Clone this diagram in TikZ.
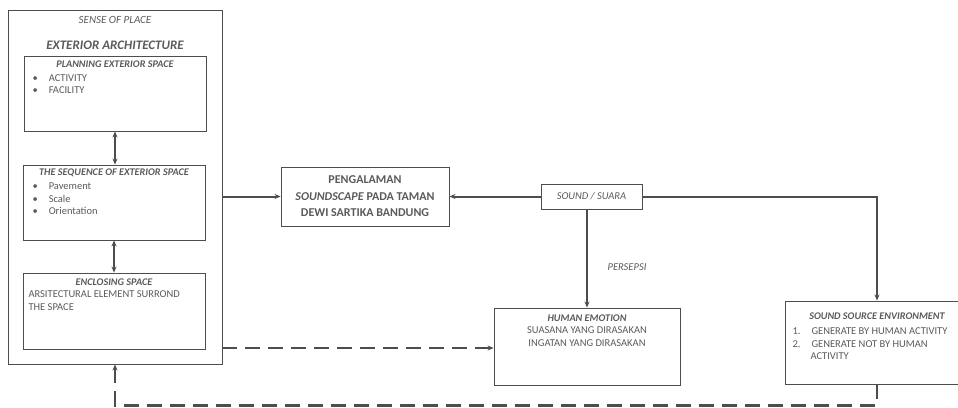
\documentclass[tikz,border=0pt]{standalone}
\usepackage{fontspec}
\setmainfont{Carlito}
\usetikzlibrary{arrows.meta}
\definecolor{linegray}{HTML}{4D4D4D}
\definecolor{textgray}{HTML}{5A5A5A}
\begin{document}
\begin{tikzpicture}[>={Stealth[length=6pt,width=5pt]},x=1pt,y=-1pt,
	box/.style={draw=linegray,line width=0.9pt,rectangle,inner sep=0pt},
	small/.style={text=textgray,font=\fontsize{10.5}{12.6}\selectfont},
	title/.style={small,font=\fontsize{10.2}{12.6}\selectfont\bfseries\itshape},
	link/.style={draw=linegray,line width=2pt},
	dashlink/.style={draw=linegray,line width=2.6pt,dash pattern=on 15pt off 8pt}]
			\useasboundingbox (0,0) rectangle (958,407);
			\node[box,minimum width=214pt,minimum height=354pt] (outer) at (115,187) {};
			\node[box,minimum width=182pt,minimum height=75pt] (plan) at (115,93.5) {};
			\node[box,minimum width=182pt,minimum height=75pt] (seq) at (114,202.5) {};
			\node[box,minimum width=182pt,minimum height=76pt] (enc) at (114,311) {};
			\node[box,minimum width=168pt,minimum height=59pt] (peng) at (365,196.5) {};
			\node[box,minimum width=101pt,minimum height=25pt] (sound) at (591.5,196.5) {};
			\node[box,minimum width=186pt,minimum height=77pt] (hemo) at (587,346.5) {};
			\node[box,minimum width=184pt,minimum height=83pt] (sse) at (877,342.5) {};
			\node[small,font=\fontsize{11}{13}\selectfont\itshape] (sense) at (115,20) {SENSE OF PLACE};
			\node[text=textgray,font=\fontsize{13}{15}\selectfont\bfseries\itshape] (extarch) at (115,45) {EXTERIOR ARCHITECTURE};
			\node[title] (plantitle) at (115,64) {PLANNING EXTERIOR SPACE};
			\node[small,anchor=west] (planb1) at (29,78) {\textbullet\hspace{11pt}ACTIVITY};
			\node[small,anchor=west] (planb2) at (29,90) {\textbullet\hspace{11pt}FACILITY};
			\node[title] (seqtitle) at (114,173) {THE SEQUENCE OF EXTERIOR SPACE};
			\node[small,anchor=west] (seqb1) at (29,186) {\textbullet\hspace{11pt}Pavement};
			\node[small,anchor=west] (seqb2) at (29,199) {\textbullet\hspace{11pt}Scale};
			\node[small,anchor=west] (seqb3) at (29,211) {\textbullet\hspace{11pt}Orientation};
			\node[title] (enctitle) at (114,282) {ENCLOSING SPACE};
			\node[small,anchor=west] (enctext1) at (25,294.5) {ARSITECTURAL ELEMENT SURROND};
			\node[small,anchor=west] (enctext2) at (25,307) {THE SPACE};
			\node[text=textgray,font=\fontsize{12}{16.5}\selectfont\bfseries,align=center] (pengtext) at (365,196.5) {PENGALAMAN\\\textit{SOUNDSCAPE} PADA TAMAN\\DEWI SARTIKA BANDUNG};
			\node[small,font=\fontsize{10.5}{12.6}\selectfont\itshape] (soundtext) at (591.5,196.5) {SOUND / SUARA};
			\node[small,font=\fontsize{10.5}{12.6}\selectfont\itshape] (persepsi) at (627,267) {PERSEPSI};
			\node[title] (hemotitle) at (587,318) {HUMAN EMOTION};
			\node[small] (hemo1) at (587,330.5) {SUASANA YANG DIRASAKAN};
			\node[small] (hemo2) at (587,343) {INGATAN YANG DIRASAKAN};
			\node[title] (ssetitle) at (877,316) {SOUND SOURCE ENVIRONMENT};
			\node[small,anchor=west] (sse1) at (789,331) {1.\hspace{11pt}GENERATE BY HUMAN ACTIVITY};
			\node[small,anchor=west] (sse2) at (789,344) {2.\hspace{11pt}GENERATE NOT BY HUMAN};
			\node[small,anchor=west] (sse3) at (807,356.5) {ACTIVITY};
			\draw[link,<->] (plan.south) -- (plan.south |- seq.north);
			\draw[link,<->] (seq.south) -- (seq.south |- enc.north);
			\draw[link,->] (outer.east |- peng.west) -- (peng.west);
			\draw[link,->] (sound.west) -- (peng.east);
			\draw[link,->] (sound.east) -| (sse.north);
			\draw[link,->] (sound.south -| hemo.north) -- (hemo.north);
			\draw[dashlink,->] (outer.east |- 0,348) -- (hemo.west |- 0,348);
			\draw[dashlink,->] (sse.south) -- ++(0,21) -| (outer.south);
	\end{tikzpicture}
\end{document}
